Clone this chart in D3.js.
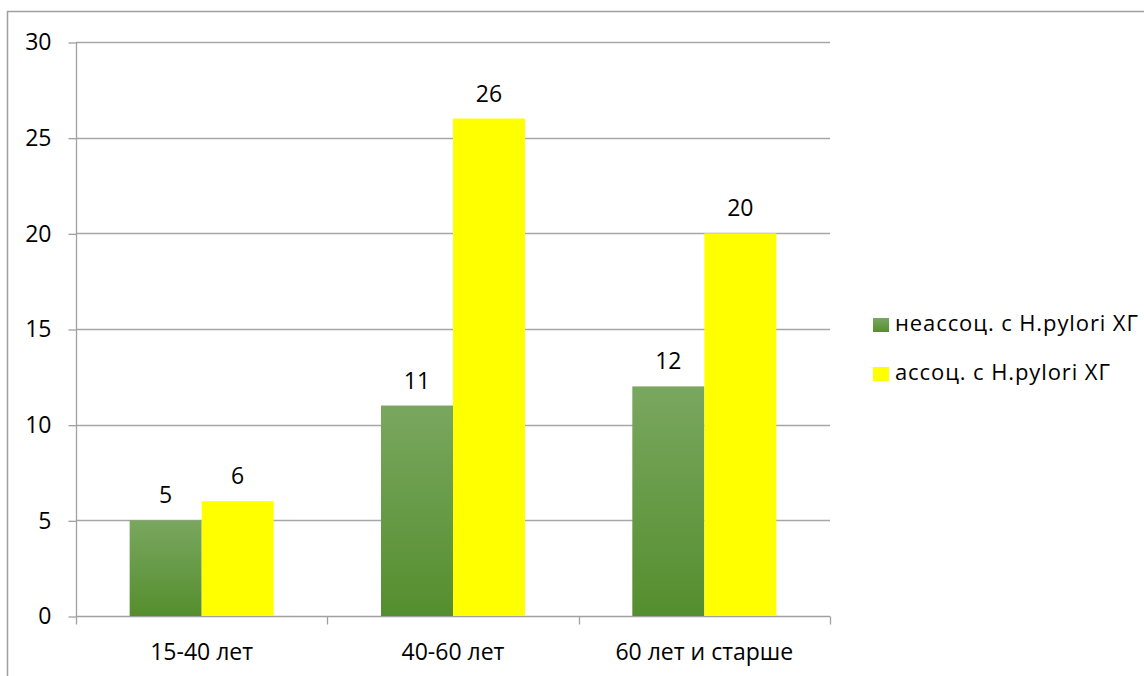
<!DOCTYPE html>
<html lang="ru">
<head>
    <meta charset="UTF-8">
    <title>Chart</title>
    <script src="https://d3js.org/d3.v7.min.js"></script>
    <style>
        body { margin: 0; background: #fff; }
        text { font-family: "Open Sans", "Noto Sans", sans-serif; fill: #000; }
    </style>
</head>
<body>
    <svg width="1144" height="676"></svg>
    <script>
        var categories = ["15-40 лет", "40-60 лет", "60 лет и старше"];
        var seriesNames = ["неассоц. с H.pylori ХГ", "ассоц. с H.pylori ХГ"];
        var nonAssoc = [5, 11, 12];
        var assoc = [6, 26, 20];
        var yTicks = [0, 5, 10, 15, 20, 25, 30];

        var svg = d3.select("svg");
        var plotLeft = 76, plotRight = 830, plotTop = 42, plotBottom = 616;
        var fontSize = "23px";

        // outer chart border
        svg.append("rect")
            .attr("x", 7.5).attr("y", 11.5)
            .attr("width", 1150).attr("height", 700)
            .attr("fill", "none").attr("stroke", "#a0a0a0").attr("stroke-width", 1.5);

        var defs = svg.append("defs");
        var grad = defs.append("linearGradient")
            .attr("id", "green").attr("x1", 0).attr("y1", 0).attr("x2", 0).attr("y2", 1);
        grad.append("stop").attr("offset", "0%").attr("stop-color", "#79a75f");
        grad.append("stop").attr("offset", "100%").attr("stop-color", "#558e2e");

        var x0 = d3.scaleBand().domain(categories).range([plotLeft, plotRight]).paddingInner(0).paddingOuter(0);
        var x1 = d3.scaleBand().domain([0, 1]).range([0, x0.bandwidth()]).paddingInner(0).paddingOuter(0.745);
        var y = d3.scaleLinear().domain([0, 30]).range([plotBottom, plotTop]);

        // gridlines
        svg.append("g").selectAll("line")
            .data(yTicks.slice(1))
            .enter().append("line")
            .attr("x1", plotLeft).attr("x2", plotRight)
            .attr("y1", function (d) { return Math.round(y(d)) + 0.5; })
            .attr("y2", function (d) { return Math.round(y(d)) + 0.5; })
            .attr("stroke", "#a6a6a6").attr("stroke-width", 1.3);

        // y axis
        var yAxis = svg.append("g")
            .attr("transform", "translate(" + (plotLeft + 0.5) + ",0.5)")
            .call(d3.axisLeft(y).tickValues(yTicks).tickSize(8).tickPadding(17));
        yAxis.selectAll("line, path").attr("stroke", "#a0a0a0").attr("stroke-width", 1.3);
        yAxis.select(".domain").attr("d", "M0," + plotTop + "V" + plotBottom);
        yAxis.selectAll("text").style("font-size", fontSize).attr("fill", "#000")
            .style("font-family", "'Open Sans', sans-serif");

        // x axis
        var xAxis = svg.append("g")
            .attr("transform", "translate(0," + (plotBottom + 0.5) + ")");
        xAxis.append("line").attr("x1", plotLeft).attr("x2", plotRight)
            .attr("stroke", "#a0a0a0").attr("stroke-width", 1.3);
        var bounds = categories.map(function (c) { return x0(c); }).concat([plotRight]);
        xAxis.selectAll(".tk").data(bounds).enter().append("line")
            .attr("x1", function (d) { return Math.round(d) + 0.5; })
            .attr("x2", function (d) { return Math.round(d) + 0.5; })
            .attr("y1", 0).attr("y2", 8)
            .attr("stroke", "#a0a0a0").attr("stroke-width", 1.3);
        xAxis.selectAll(".lbl").data(categories).enter().append("text")
            .attr("x", function (d) { return x0(d) + x0.bandwidth() / 2; })
            .attr("y", 43)
            .attr("text-anchor", "middle")
            .style("font-size", fontSize)
            .text(function (d) { return d; });

        // bars
        var series = [nonAssoc, assoc];
        var fills = ["url(#green)", "#ffff00"];
        series.forEach(function (vals, s) {
            var g = svg.append("g");
            g.selectAll("rect").data(vals).enter().append("rect")
                .attr("x", function (d, i) { return x0(categories[i]) + x1(s); })
                .attr("y", function (d) { return y(d); })
                .attr("width", x1.bandwidth())
                .attr("height", function (d) { return y(0) - y(d); })
                .attr("fill", fills[s]);
            g.selectAll("text").data(vals).enter().append("text")
                .attr("x", function (d, i) { return x0(categories[i]) + x1(s) + x1.bandwidth() / 2; })
                .attr("y", function (d) { return y(d) - 17; })
                .attr("text-anchor", "middle")
                .style("font-size", fontSize)
                .text(function (d) { return d; });
        });

        // legend
        var legend = svg.append("g");
        seriesNames.forEach(function (name, i) {
            var ly = 318 + i * 49;
            legend.append("rect")
                .attr("x", 873).attr("y", ly).attr("width", 16).attr("height", 14)
                .attr("fill", fills[i]);
            legend.append("text")
                .attr("x", 895).attr("y", ly + 13)
                .style("font-size", "22px")
                .style("letter-spacing", "0.9px")
                .text(name);
        });
    </script>
</body>
</html>
